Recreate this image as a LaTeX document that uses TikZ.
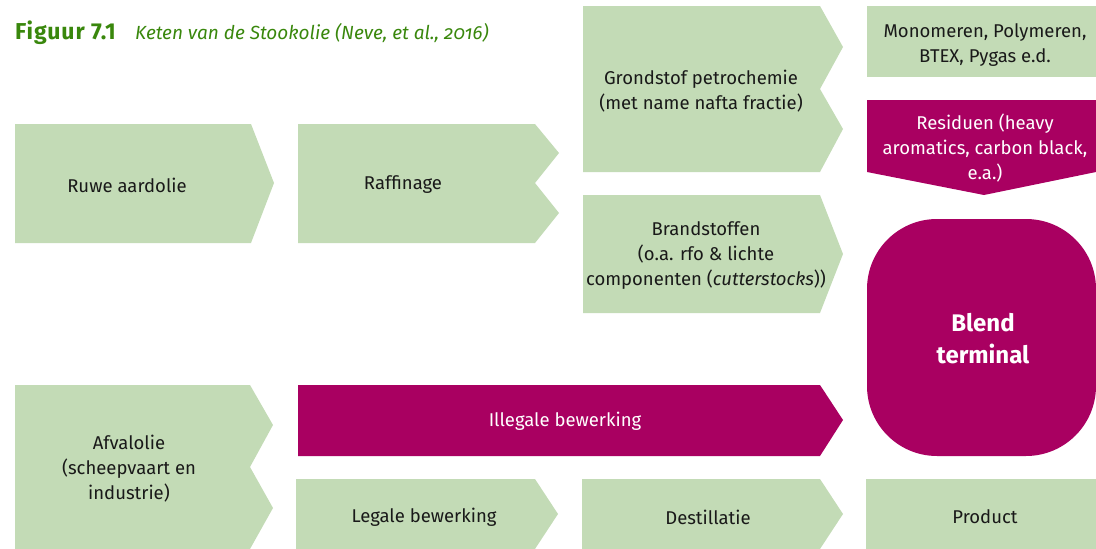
\documentclass[tikz,border=0pt]{standalone}
\usepackage{fontspec}
\setmainfont{Fira Sans}
\usetikzlibrary{positioning}
\definecolor{lichtgroen}{HTML}{C3DBB6}
\definecolor{paars}{HTML}{A90061}
\definecolor{titelgroen}{HTML}{39870C}

\begin{document}
\begin{tikzpicture}[x=1pt, y=-1pt,
	vlak/.style={fill=lichtgroen},
	rood/.style={fill=paars},
	tekst/.style={align=center, text=black!90, inner sep=0pt, font=\fontsize{18.5}{25}\selectfont},
	wit/.style={tekst, text=white}
	]
	\useasboundingbox (0,0) rectangle (1096,549);

	\node (figuur) [anchor=base west, inner sep=0pt, text=titelgroen, font=\fontsize{23}{24}\selectfont\bfseries\addfontfeatures{LetterSpace=4}] at (15,39) {Figuur 7.1};
	\node (titel) [anchor=base west, inner sep=0pt, text=titelgroen, font=\fontsize{19}{24}\selectfont\itshape] at (135,39) {\addfontfeatures{Numbers=OldStyle}Keten van de Stookolie (Neve, et al., 2016)};

	% bovenste rij
	\fill [vlak] (15,124) -- (251,124) -- (274,183) -- (251,243) -- (15,243) -- cycle;
	\fill [vlak] (298,124) -- (535,124) -- (559,153) -- (535,183) -- (559,213) -- (535,243) -- (298,243) -- cycle;
	\fill [vlak] (583,6) -- (820,6) -- (843,47) -- (820,89) -- (843,129) -- (820,172) -- (583,172) -- cycle;
	\fill [vlak] (583,195) -- (820,195) -- (843,254) -- (820,313) -- (583,313) -- cycle;
	\fill [vlak] (867,6) rectangle (1096,77);
	\fill [rood] (867,100) -- (1096,100) -- (1096,172) -- (984,195) -- (867,172) -- cycle;
	\fill [rood, rounded corners=70pt] (867,219) rectangle (1096,456);

	\node (ruwe) [tekst] at (127,185) {Ruwe aardolie};
	\node (raffinage) [tekst] at (403,185) {Raffinage};
	\node (grondstof) [tekst] at (701,91) {Grondstof petrochemie\\(met name nafta fractie)};
	\node (brandstof) [tekst] at (706,256) {Brandstoffen\\(o.a. rfo \& lichte\\componenten (\textit{cutterstocks}))};
	\node (monomeren) [tekst] at (985,45) {Monomeren, Polymeren,\\BTEX, Pygas e.d.};
	\node (residuen) [wit] at (985,148) {Residuen (heavy\\aromatics, carbon black,\\e.a.)};
	\node (blend) [wit, font=\fontsize{24}{32}\selectfont\bfseries] at (983,339) {Blend\\terminal};

	% onderste rij
	\fill [vlak] (15,385) -- (250,385) -- (273,425) -- (250,467) -- (273,508) -- (250,549) -- (15,549) -- cycle;
	\fill [rood] (298,385) -- (820,385) -- (843,420) -- (820,456) -- (298,456) -- cycle;
	\fill [vlak] (296,479) -- (535,479) -- (558,514) -- (535,549) -- (296,549) -- cycle;
	\fill [vlak] (582,479) -- (820,479) -- (843,514) -- (820,549) -- (582,549) -- cycle;
	\fill [vlak] (866,479) rectangle (1096,549);

	\node (afvalolie) [tekst] at (129,469) {Afvalolie\\(scheepvaart en\\industrie)};
	\node (illegaal) [wit] at (565,421) {Illegale bewerking};
	\node (legaal) [tekst] at (424,517) {Legale bewerking};
	\node (destillatie) [tekst] at (708,517) {Destillatie};
	\node (product) [tekst] at (985,517) {Product};

\end{tikzpicture}
\end{document}
